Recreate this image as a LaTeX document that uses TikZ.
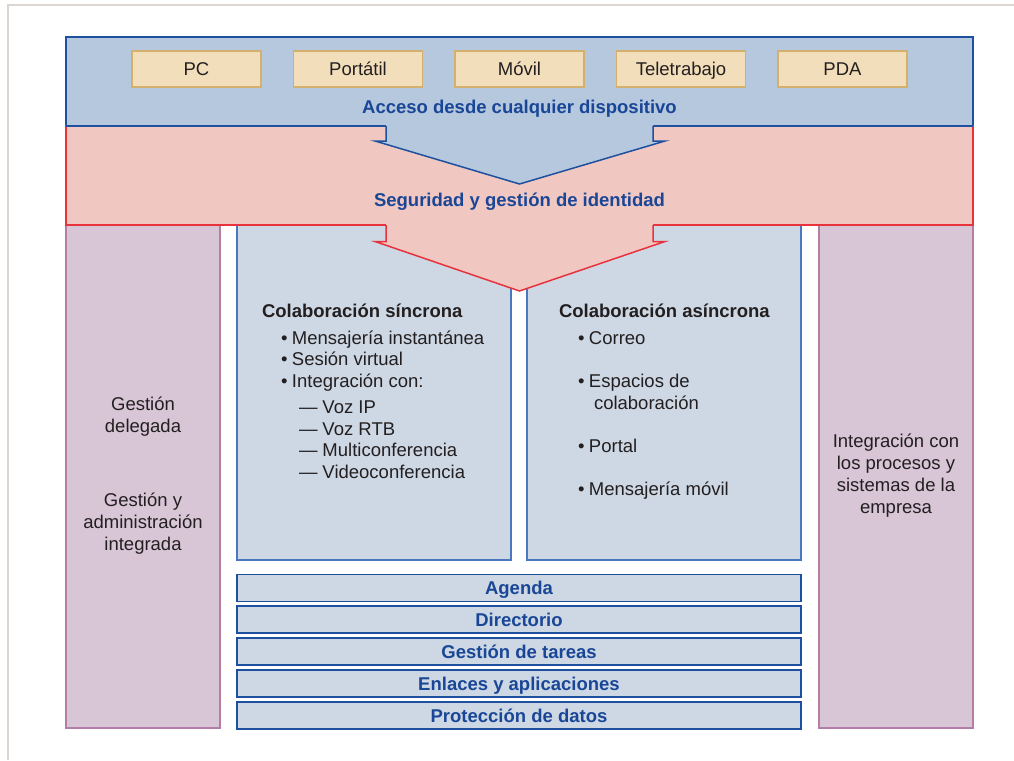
\documentclass[tikz,border=0pt]{standalone}
\usepackage{fontspec}
\setmainfont{Liberation Sans}
\definecolor{framegray}{HTML}{DDD5D0}
\definecolor{topblue}{HTML}{B5C8DD}
\definecolor{lineblue}{HTML}{1E50A0}
\definecolor{bandred}{HTML}{F0C7C1}
\definecolor{linered}{HTML}{E8323C}
\definecolor{panelblue}{HTML}{CDD8E4}
\definecolor{panelline}{HTML}{4A78C0}
\definecolor{lilac}{HTML}{D8C5D6}
\definecolor{lilacline}{HTML}{B47CAA}
\definecolor{devfill}{HTML}{F2DEBA}
\definecolor{devline}{HTML}{D4B06E}
\definecolor{titleblue}{HTML}{194696}
\definecolor{bodytext}{HTML}{231F20}
\begin{document}
\begin{tikzpicture}[x=1pt,y=-1pt,
  every node/.style={inner sep=0pt, outer sep=0pt,
    font=\fontsize{18.5}{22}\selectfont, text=bodytext},
  devbox/.style={draw=devline, fill=devfill, line width=1.5pt,
    minimum width=129pt, minimum height=36pt, text height=13.2pt, text depth=0pt},
  barbox/.style={draw=lineblue, fill=panelblue, line width=1.8pt,
    minimum width=564pt, minimum height=27pt, text height=13.2pt, text depth=0pt,
    font=\fontsize{18.5}{22}\selectfont\bfseries, text=titleblue},
  headline/.style={font=\fontsize{18.5}{22}\selectfont\bfseries, text=titleblue, anchor=base},
  paneltitle/.style={font=\fontsize{18.5}{22}\selectfont\bfseries, anchor=base west},
  item/.style={anchor=base west},
  sidetext/.style={align=center, font=\fontsize{18.5}{22}\selectfont},
  panel/.style={fill=panelblue, draw=panelline, line width=1.5pt},
  sidepanel/.style={fill=lilac, draw=lilacline, line width=1.5pt}]
\useasboundingbox (0,0) rectangle (1014,760);

% outer frame (top and left edges)
\draw[framegray, line width=2pt] (1014,5) -- (7.5,5) -- (7.5,760);

% side columns and central panels
\filldraw[sidepanel] (66,225) rectangle (220,728);
\filldraw[sidepanel] (819,225) rectangle (973,728);
\filldraw[panel] (237,225) rectangle (511,560);
\filldraw[panel] (527,225) rectangle (801,560);

% access layer
\filldraw[fill=topblue, draw=lineblue, line width=1.5pt] (66,37) rectangle (973,126);
% security layer
\filldraw[fill=bandred, draw=linered, line width=1.5pt] (66,126) rectangle (973,225);
\draw[lineblue, line width=1.5pt] (66,126) -- (973,126);

% arrow from the access layer
\fill[topblue] (386,124) -- (386,141) -- (375,141) -- (519.5,184) -- (665,141) -- (653,141) -- (653,124) -- cycle;
\draw[lineblue, line width=1.5pt, line join=miter]
  (386,126) -- (386,141) -- (375,141) -- (519.5,184) -- (665,141) -- (653,141) -- (653,126);

% arrow from the security layer
\fill[bandred] (386,223) -- (386,241.5) -- (375,241.5) -- (519.5,291) -- (665,241.5) -- (653,241.5) -- (653,223) -- cycle;
\draw[linered, line width=1.5pt, line join=miter]
  (386,225) -- (386,241.5) -- (375,241.5) -- (519.5,291) -- (665,241.5) -- (653,241.5) -- (653,225);

% devices
\node[devbox] (pc)   at (196.5,69) {PC};
\node[devbox] (port) at (358,69)   {Portátil};
\node[devbox] (mov)  at (519.5,69) {Móvil};
\node[devbox] (tele) at (681,69)   {Teletrabajo};
\node[devbox] (pda)  at (842.5,69) {PDA};

\node[headline] (acceso) at (519.5,113) {Acceso desde cualquier dispositivo};
\node[headline] (segur)  at (519.5,206) {Seguridad y gestión de identidad};

% synchronous collaboration
\node[paneltitle] (sinc) at (262,317) {Colaboración síncrona};
\node[item] (s1) at (281,344) {•\hspace{4.5pt}Mensajería instantánea};
\node[item] (s2) at (281,365.5) {•\hspace{4.5pt}Sesión virtual};
\node[item] (s3) at (281,387) {•\hspace{4.5pt}Integración con:};
\node[item] (s4) at (299,413) {—\hspace{5pt}Voz IP};
\node[item] (s5) at (299,435) {—\hspace{5pt}Voz RTB};
\node[item] (s6) at (299,456.5) {—\hspace{5pt}Multiconferencia};
\node[item] (s7) at (299,478) {—\hspace{5pt}Videoconferencia};

% asynchronous collaboration
\node[paneltitle] (asinc) at (559,317) {Colaboración asíncrona};
\node[item] (a1) at (578,344) {•\hspace{4.5pt}Correo};
\node[item] (a2) at (578,387) {•\hspace{4.5pt}Espacios de};
\node[item] (a2b) at (594,409) {colaboración};
\node[item] (a3) at (578,452) {•\hspace{4.5pt}Portal};
\node[item] (a4) at (578,495) {•\hspace{4.5pt}Mensajería móvil};

% side columns text
\node[sidetext] (deleg) at (143,417) {Gestión\\delegada};
\node[sidetext] (admin) at (143,524) {Gestión y\\administración\\integrada};
\node[sidetext] (integ) at (896,476) {Integración con\\los procesos y\\sistemas de la\\empresa};

% common services
\node[barbox] (agenda) at (519,588)   {Agenda};
\node[barbox] (dir)    at (519,619.5) {Directorio};
\node[barbox] (tareas) at (519,651.5) {Gestión de tareas};
\node[barbox] (enl)    at (519,683.5) {Enlaces y aplicaciones};
\node[barbox] (prot)   at (519,715.5) {Protección de datos};
\end{tikzpicture}
\end{document}
